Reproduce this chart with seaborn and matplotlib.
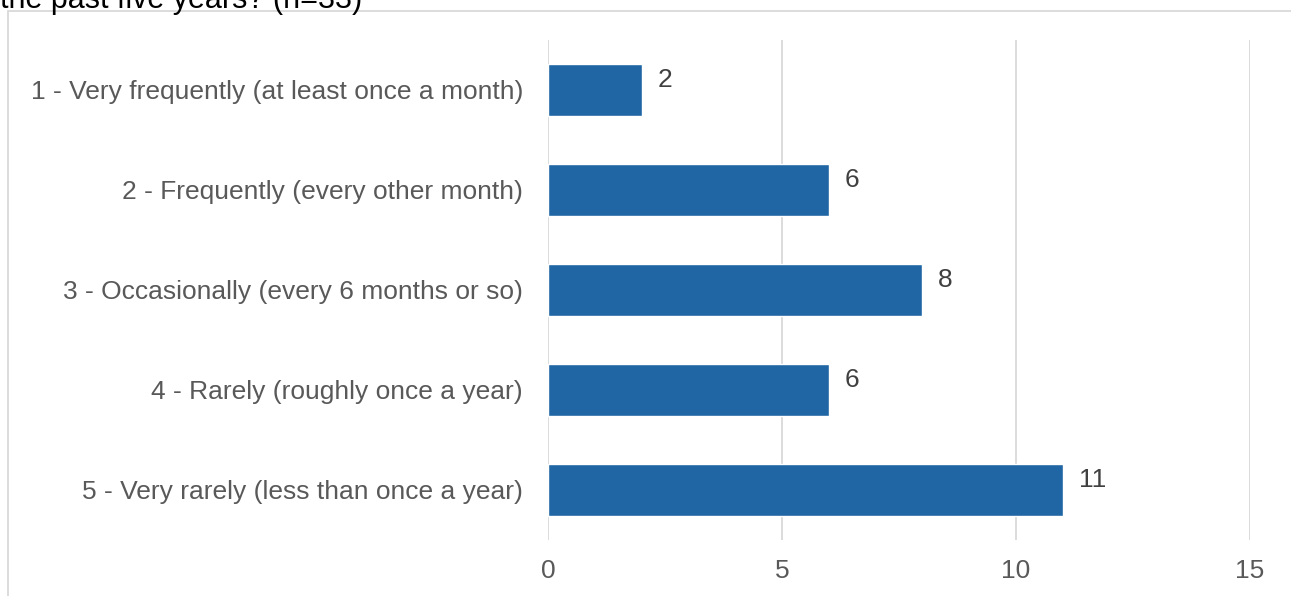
import matplotlib
matplotlib.use("Agg")
import matplotlib.pyplot as plt
from matplotlib.patches import Rectangle
import seaborn as sns
import pandas as pd

categories = [
    "1 - Very frequently (at least once a month)",
    "2 - Frequently (every other month)",
    "3 - Occasionally (every 6 months or so)",
    "4 - Rarely (roughly once a year)",
    "5 - Very rarely (less than once a year)",
]
counts = [2, 6, 8, 6, 11]
x_ticks = [0, 5, 10, 15]
title = "the past five years? (n=33)"

sns.set_theme(style="white")
plt.rcParams["font.family"] = ["Liberation Sans", "DejaVu Sans"]

W, H = 1291, 596
fig = plt.figure(figsize=(W / 100, H / 100), dpi=100)
ax = fig.add_axes([548 / W, 1 - 540 / H, (1250 - 548) / W, 500 / H])

df = pd.DataFrame({"category": categories, "count": counts})
sns.barplot(data=df, x="count", y="category", orient="h", color="#2066A4",
            saturation=1, width=0.52, ax=ax)

ax.set_xlim(0, 15)
ax.set_ylim(4.5, -0.5)
ax.set_xticks(x_ticks)
ax.set_xticklabels([str(t) for t in x_ticks], fontsize=19, color="#595959")
ax.tick_params(axis="x", length=0, pad=14)
ax.tick_params(axis="y", length=0, pad=18, labelsize=19, labelcolor="#595959")
ax.set_xlabel("")
ax.set_ylabel("")
ax.grid(axis="x", color="#D9D9D9", linewidth=1.3)
ax.set_axisbelow(True)
for s in ax.spines.values():
    s.set_visible(False)

for i, v in enumerate(counts):
    ax.annotate(str(v), (v, i), xytext=(11.5, 7), textcoords="offset points",
                ha="left", va="center", fontsize=19, color="#404040")

# outer chart frame
fig.patches.append(Rectangle((8 / W, -0.05), 1.1, (1 - 11 / H) + 0.05,
                             transform=fig.transFigure, fill=False,
                             edgecolor="#D9D9D9", linewidth=1.3))
fig.text(0, 1 - 8 / H, title, ha="left", va="baseline", fontsize=22, color="#000000")

fig.savefig("out.png", dpi=100)
